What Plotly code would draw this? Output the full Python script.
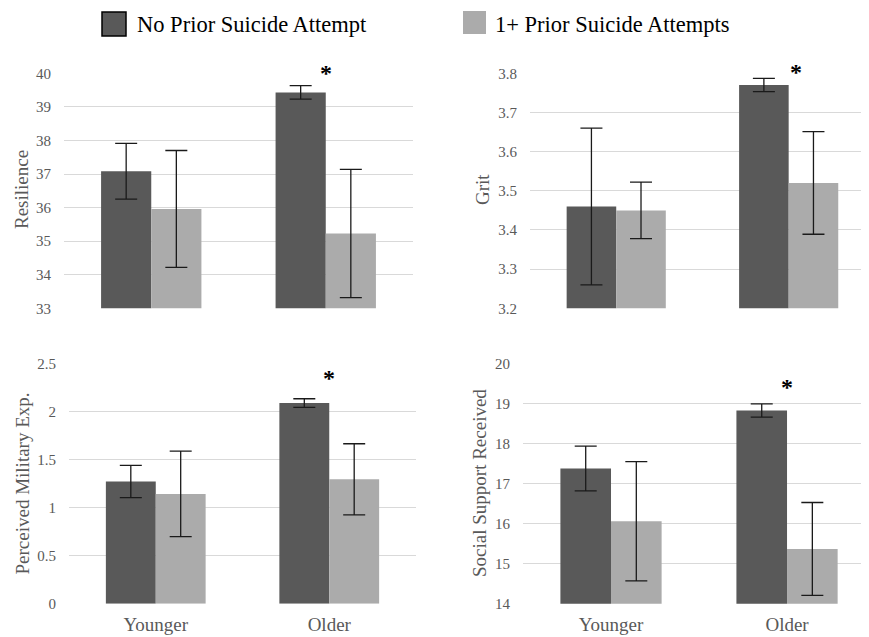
import plotly.graph_objects as go

# ---------------- data ----------------
categories = ["Younger", "Older"]
series_names = ["No Prior Suicide Attempt", "1+ Prior Suicide Attempts"]

measures = ["Resilience", "Grit", "Perceived Military Exp.", "Social Support Received"]

resilience_no = [37.08, 39.43]
resilience_no_err = [0.83, 0.20]
resilience_yes = [35.96, 35.23]
resilience_yes_err = [1.74, 1.91]

grit_no = [3.46, 3.77]
grit_no_err = [0.20, 0.017]
grit_yes = [3.45, 3.52]
grit_yes_err = [0.072, 0.131]

pme_no = [1.272, 2.09]
pme_no_err = [0.168, 0.045]
pme_yes = [1.144, 1.296]
pme_yes_err = [0.446, 0.37]

ssr_no = [17.38, 18.83]
ssr_no_err = [0.56, 0.165]
ssr_yes = [16.06, 15.37]
ssr_yes_err = [1.49, 1.16]

y_ranges = [[33, 40], [3.2, 3.8], [0, 2.5], [14, 20]]
y_dticks = [1, 0.1, 0.5, 1]
star_category = "Older"
star_y = [40.15, 3.815, 2.40, 19.54]

# ---------------- styling ----------------
PAGE_W, PAGE_H = 869, 637
OFF = 8  # default page margin of the html body
W, H = PAGE_W - OFF, PAGE_H - OFF
DARK = "#595959"
LIGHT = "#ABABAB"
GRID = "#D9D9D9"
TXT = "#595959"
FONT = "Liberation Serif"


def px_x(x):
    return (x - OFF) / W


def px_y(y):
    return 1 - (y - OFF) / H


x_domains = [[64, 413], [530, 868], [69, 416], [523, 868]]
x_ranges = [[-0.5, 1.5], [-0.5, 1.46], [-0.5, 1.5], [-0.5, 1.46]]
y_domains = [[73.3, 308.3], [73.3, 308.3], [363.7, 603.7], [363.7, 603.7]]
title_pos = [(22, 190), (483, 190), (22, 483.5), (479, 483)]
star_xshift = [0, 7, 0, 0]

panels = [
    (resilience_no, resilience_no_err, resilience_yes, resilience_yes_err),
    (grit_no, grit_no_err, grit_yes, grit_yes_err),
    (pme_no, pme_no_err, pme_yes, pme_yes_err),
    (ssr_no, ssr_no_err, ssr_yes, ssr_yes_err),
]

fig = go.Figure()
layout = dict(
    width=W, height=H,
    margin=dict(l=0, r=0, t=0, b=0, pad=0),
    paper_bgcolor="white", plot_bgcolor="white",
    barmode="group", bargap=0.425, bargroupgap=0,
    showlegend=False,
    font=dict(family=FONT, color=TXT),
)

annotations = []
shapes = []

for i, (no, no_err, yes, yes_err) in enumerate(panels):
    n = i + 1
    xa = "x" if n == 1 else f"x{n}"
    ya = "y" if n == 1 else f"y{n}"
    for vals, errs, col, name in [(no, no_err, DARK, series_names[0]),
                                  (yes, yes_err, LIGHT, series_names[1])]:
        fig.add_trace(go.Bar(
            x=categories, y=vals, name=name,
            marker=dict(color=col, line=dict(width=0)),
            error_y=dict(type="data", array=errs, visible=True,
                         color="#1a1a1a", thickness=1.3, width=11),
            xaxis=xa, yaxis=ya, offsetgroup=name,
        ))
    xd = x_domains[i]
    yd = y_domains[i]
    layout[f"xaxis{'' if n == 1 else n}"] = dict(
        domain=[px_x(xd[0]), min(1, px_x(xd[1]))],
        anchor=ya,
        type="category",
        range=x_ranges[i],
        automargin=False,
        showticklabels=(n >= 3),
        ticks="",
        showgrid=False, showline=False, zeroline=False,
        tickfont=dict(family=FONT, size=19, color=TXT),
        ticklabelstandoff=7,
    )
    layout[f"yaxis{'' if n == 1 else n}"] = dict(
        domain=[px_y(yd[1]), px_y(yd[0])],
        anchor=xa,
        automargin=False,
        range=y_ranges[i], dtick=y_dticks[i], tick0=y_ranges[i][0],
        showgrid=True, gridcolor=GRID, gridwidth=1.3,
        zeroline=False, showline=False, ticks="",
        tickfont=dict(family=FONT, size=15, color=TXT),
        ticklabelstandoff=12,
    )
    tx, ty = title_pos[i]
    annotations.append(dict(
        text=measures[i], xref="paper", yref="paper",
        x=px_x(tx), y=px_y(ty), xanchor="center", yanchor="middle",
        textangle=-90, showarrow=False,
        font=dict(family=FONT, size=19, color=TXT),
    ))
    r0, r1 = y_ranges[i]
    annotations.append(dict(
        text="<b>*</b>", xref=xa, yref=f"{ya} domain",
        x=star_category, y=(star_y[i] - r0) / (r1 - r0),
        xanchor="center", yanchor="middle",
        showarrow=False, yshift=-5, xshift=star_xshift[i],
        font=dict(family=FONT, size=24, color="black"),
    ))

# manual legend
legend_boxes = [((102, 12, 126, 36), DARK, dict(color="black", width=1.5), 135),
                ((463, 11, 486, 34), LIGHT, dict(width=0), 493)]
for (x0, y0, x1, y1), col, line, tx in legend_boxes:
    shapes.append(dict(type="rect", xref="paper", yref="paper",
                       x0=px_x(x0), x1=px_x(x1), y0=px_y(y1), y1=px_y(y0),
                       fillcolor=col, line=line))
for (box, col, line, tx), name in zip(legend_boxes, series_names):
    annotations.append(dict(
        text=name, xref="paper", yref="paper",
        x=px_x(tx), y=px_y(24), xanchor="left", yanchor="middle",
        showarrow=False, font=dict(family=FONT, size=22.5, color="black"),
    ))

layout["annotations"] = annotations
layout["shapes"] = shapes
fig.update_layout(**layout)
fig.write_html("out.html")
